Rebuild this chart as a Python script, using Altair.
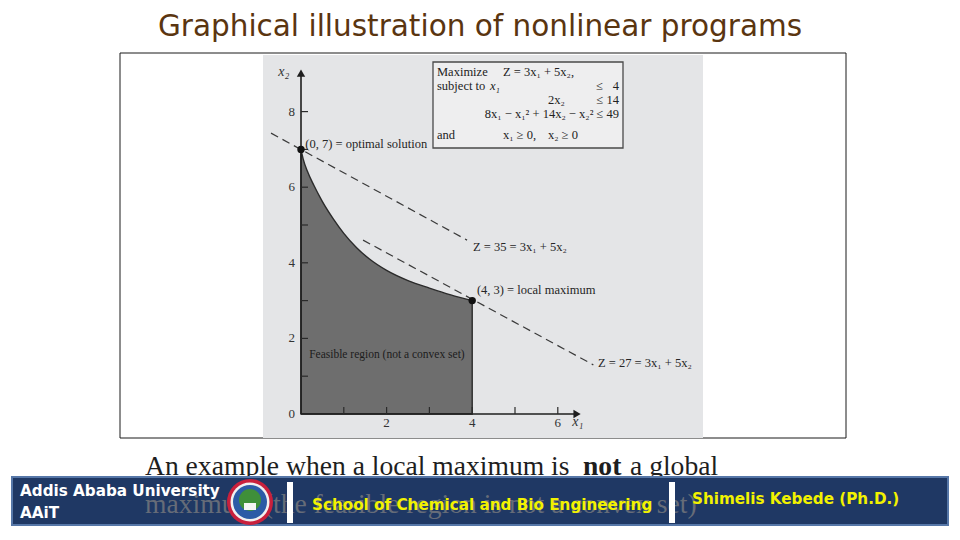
import altair as alt
import pandas as pd

# ---------------- data ----------------
TITLE = "Graphical illustration of nonlinear programs"
CAPTION_1A = "An example when a local maximum is"
CAPTION_1B = "not"
CAPTION_1C = "a global"
CAPTION_2 = "maximum (the feasible region is not a convex set)"

# boundary of the feasible region (x1, x2)
curve_x1 = [0.0, 0.05, 0.15, 0.3, 0.5, 0.75, 1.0, 1.3, 1.6, 2.0, 2.5, 3.0, 3.5, 4.0]
curve_x2 = [7.0, 6.75, 6.42, 6.05, 5.62, 5.17, 4.78, 4.40, 4.10, 3.80, 3.53, 3.33, 3.15, 3.0]

# dashed objective lines
z35_x1 = [-0.7, 3.88]
z35_x2 = [7.43, 4.6]
z27_x1 = [1.45, 6.83]
z27_x2 = [4.6, 1.3]

# highlighted points
point_x1 = [0, 4]
point_x2 = [7, 3]

# axes
x_tick_values = [1, 2, 3, 4, 5, 6]
y_tick_values = [1, 2, 3, 4, 5, 6, 7, 8]
x_tick_labels = [2, 4, 6]
y_tick_labels = [0, 2, 4, 6, 8]
x_axis_end = 6.45
y_axis_end = 9.02

# annotations
ann_text = ["(0, 7) = optimal solution", "Z = 35 = 3x₁ + 5x₂",
            "(4, 3) = local maximum", "Z = 27 = 3x₁ + 5x₂"]
ann_x1 = [0.1, 4.02, 4.11, 6.94]
ann_x2 = [7.14, 4.42, 3.28, 1.35]
region_label = "Feasible region (not a convex set)"
region_x1 = [0.19]
region_x2 = [1.56]

# ---------------- layout ----------------
W, H = 944, 524
PX0, PXU = 293.0, 42.8     # pixel of x1=0 and pixels per unit
PY0, PYU = 406.0, 37.8     # pixel of x2=0 and pixels per unit
XS = alt.Scale(domain=[-PX0 / PXU, (W - PX0) / PXU], nice=False, zero=False)
YS = alt.Scale(domain=[-(H - PY0) / PYU, PY0 / PYU], nice=False, zero=False)
TX = 7 / PXU   # tick length in data units
TY = 7 / PYU

SERIF = "Liberation Serif"
SANS = "DejaVu Sans"
one = pd.DataFrame({"k": [0]})


def X(f):
    return alt.X(f, type="quantitative", scale=XS, axis=None)


def Y(f):
    return alt.Y(f, type="quantitative", scale=YS, axis=None)


def rect(x0, x1, y0, y1, fill, stroke=None, sw=0):
    kw = dict(fill=fill, strokeWidth=sw)
    if stroke:
        kw["stroke"] = stroke
    return alt.Chart(one).mark_rect(**kw).encode(
        x=alt.value(x0), x2=alt.value(x1), y=alt.value(y0), y2=alt.value(y1))


def txt(s, x, y, size, color="#222222", font=SERIF, weight="normal",
        align="left", style="normal", baseline="middle"):
    return alt.Chart(one).mark_text(
        text=s, align=align, baseline=baseline, font=font, fontSize=size,
        fontWeight=weight, fontStyle=style, color=color
    ).encode(x=alt.value(x), y=alt.value(y))


def dot(x, y, d, color):
    return alt.Chart(one).mark_point(shape="circle", filled=True, opacity=1,
                                     size=d * d, color=color).encode(
        x=alt.value(x), y=alt.value(y))


layers = []
# slide frame and photo background
layers.append(rect(112, 838, 45, 430, "#ffffff", "#1a1a1a", 1))
layers.append(rect(255, 695, 47, 430, "#e4e5e7"))
# problem statement box
layers.append(rect(425, 615, 54, 140, "#eeeeef", "#4a4a4a", 1.3))

# feasible region
curve = pd.DataFrame({"x1": curve_x1, "x2": curve_x2})
layers.append(alt.Chart(curve).mark_area(
    interpolate="monotone", fill="#6e6e6e", stroke="#2b2b2b", strokeWidth=1.4
).encode(x=X("x1"), y=Y("x2"), y2=alt.datum(0)))

# dashed objective lines
lines = pd.DataFrame({
    "x1": z35_x1 + z27_x1,
    "x2": z35_x2 + z27_x2,
    "g": ["z35"] * len(z35_x1) + ["z27"] * len(z27_x1),
})
layers.append(alt.Chart(lines).mark_line(
    color="#3a3a3a", strokeWidth=1.2, strokeDash=[8, 5]
).encode(x=X("x1"), y=Y("x2"), detail="g:N"))

# axis lines
axes = pd.DataFrame({"x1": [0, 0], "x2": [0, 0],
                     "e1": [x_axis_end, 0], "e2": [0, y_axis_end]})
layers.append(alt.Chart(axes).mark_rule(color="#1e1e1e", strokeWidth=1.6).encode(
    x=X("x1"), x2="e1:Q", y=Y("x2"), y2="e2:Q"))

# arrow heads
layers.append(alt.Chart(pd.DataFrame({"x1": [x_axis_end], "x2": [0]})).mark_point(
    shape="triangle-right", filled=True, size=70, color="#1e1e1e", opacity=1
).encode(x=X("x1"), y=Y("x2")))
layers.append(alt.Chart(pd.DataFrame({"x1": [0], "x2": [y_axis_end]})).mark_point(
    shape="triangle-up", filled=True, size=70, color="#1e1e1e", opacity=1
).encode(x=X("x1"), y=Y("x2")))

# ticks
yt = pd.DataFrame({"v": y_tick_values})
layers.append(alt.Chart(yt).mark_rule(color="#2a2a2a", strokeWidth=1.2).encode(
    x=alt.X(datum=0, scale=XS, axis=None), x2=alt.X2(datum=TX), y=Y("v")))
xt = pd.DataFrame({"v": x_tick_values})
layers.append(alt.Chart(xt).mark_rule(color="#2a2a2a", strokeWidth=1.2).encode(
    y=alt.Y(datum=0, scale=YS, axis=None), y2=alt.Y2(datum=TY), x=X("v")))

# tick labels
layers.append(alt.Chart(pd.DataFrame({"v": y_tick_labels})).mark_text(
    align="right", baseline="middle", dx=-6, font=SERIF, fontSize=13, color="#333333"
).encode(x=alt.X(datum=0, scale=XS, axis=None), y=Y("v"), text="v:Q"))
layers.append(alt.Chart(pd.DataFrame({"v": x_tick_labels})).mark_text(
    align="center", baseline="top", dy=3, font=SERIF, fontSize=13, color="#333333"
).encode(y=alt.Y(datum=0, scale=YS, axis=None), x=X("v"), text="v:Q"))

# axis titles
layers.append(alt.Chart(pd.DataFrame({"x1": [-0.4], "x2": [9.05], "t": ["x₂"]})).mark_text(
    font=SERIF, fontSize=14, fontStyle="italic", color="#333333"
).encode(x=X("x1"), y=Y("x2"), text="t:N"))
layers.append(alt.Chart(pd.DataFrame({"x1": [6.47], "x2": [-0.2], "t": ["x₁"]})).mark_text(
    font=SERIF, fontSize=14, fontStyle="italic", color="#333333"
).encode(x=X("x1"), y=Y("x2"), text="t:N"))

# points
pts = pd.DataFrame({"x1": point_x1, "x2": point_x2})
layers.append(alt.Chart(pts).mark_point(
    shape="circle", filled=True, size=55, color="#111111", opacity=1
).encode(x=X("x1"), y=Y("x2")))

# annotations
ann = pd.DataFrame({"x1": ann_x1, "x2": ann_x2, "t": ann_text})
layers.append(alt.Chart(ann).mark_text(
    align="left", baseline="middle", font=SERIF, fontSize=12.5, color="#262626"
).encode(x=X("x1"), y=Y("x2"), text="t:N"))
reg = pd.DataFrame({"x1": region_x1, "x2": region_x2, "t": [region_label]})
layers.append(alt.Chart(reg).mark_text(
    align="left", baseline="middle", font=SERIF, fontSize=11.5, color="#1c1c1c"
).encode(x=X("x1"), y=Y("x2"), text="t:N"))

# problem statement text
BS = 12.5
layers += [
    txt("Maximize", 429, 64, BS),
    txt("Z = 3x₁ + 5x₂,", 495, 64, BS),
    txt("subject to", 429, 78, BS),
    txt("x₁", 482, 78, BS, style="italic"),
    txt("≤", 595, 78, BS, align="right"),
    txt("4", 611, 78, BS, align="right"),
    txt("2x₂", 540, 92, BS),
    txt("≤ 14", 611, 92, BS, align="right"),
    txt("8x₁ − x₁² + 14x₂ − x₂² ≤ 49", 611, 106, BS, align="right"),
    txt("and", 429, 127, BS),
    txt("x₁ ≥ 0,", 495, 127, BS),
    txt("x₂ ≥ 0", 540, 127, BS),
]

# slide title and caption
layers.append(txt(TITLE, 472, 19, 29.5, color="#5a3510", font="DejaVu Sans", align="center"))
layers.append(txt(CAPTION_1A, 137, 459, 27.6, color="#1e1e1e"))
layers.append(txt(CAPTION_1B, 575, 459, 27.6, color="#1e1e1e", weight="bold"))
layers.append(txt(CAPTION_1C, 622, 459, 27.6, color="#1e1e1e"))

# footer bar
layers.append(rect(4, 940, 469, 517, "#1f3864", "#5677a8", 2))
layers.append(txt(CAPTION_2, 137, 497, 27.6, color="#666c78"))
# logo
layers += [dot(242, 494, 46, "#c9203c"), dot(242, 494, 39, "#f0f0f0"),
           dot(242, 494, 34, "#2b5ba6"), dot(242, 492, 22, "#3f8f3a")]
layers.append(rect(236, 248, 495, 502, "#f4f4f4"))
# separators
layers.append(rect(279, 285, 474, 515, "#ffffff"))
layers.append(rect(661, 667, 474, 515, "#ffffff"))
# footer texts
FS = 15.2
layers += [
    txt("Addis Ababa University", 12, 483, FS, color="#ffffff", font=SANS, weight="bold"),
    txt("AAiT", 12, 505, FS, color="#ffffff", font=SANS, weight="bold"),
    txt("School of Chemical and Bio Engineering", 304, 497, FS, color="#f2f200", font=SANS, weight="bold"),
    txt("Shimelis Kebede (Ph.D.)", 684, 491, FS, color="#f2f200", font=SANS, weight="bold"),
]

chart = alt.layer(*layers).properties(
    width=W, height=H, padding=0,
    autosize=alt.AutoSizeParams(type="none"),
    background="#ffffff",
).configure_view(stroke=None)

chart.save("out.html", embed_options={"renderer": "svg", "actions": False})
